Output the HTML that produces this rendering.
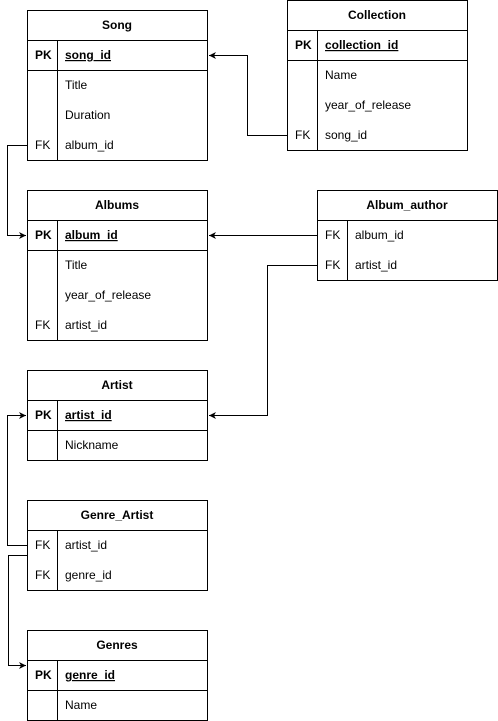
<!DOCTYPE html>
<html><head><style>body{margin:0;background:#fff}svg{display:block}text{font-family:"Liberation Sans",Arial,sans-serif;font-size:12px;fill:#000}</style></head><body>
<svg width="498" height="721" viewBox="0 0 498 721" xmlns="http://www.w3.org/2000/svg">
<defs><marker id="a" markerWidth="8" markerHeight="8" refX="7" refY="4" orient="auto" markerUnits="userSpaceOnUse"><path d="M0,0.5 L7,4 L0,7.5 L2,4Z" fill="#000"/></marker></defs>
<g fill="none" stroke="#000" stroke-width="1">
<!-- connectors -->
<path d="M27.5,145.5H7.5V235.5H26" marker-end="url(#a)"/>
<path d="M287.5,135.5H247.5V55.5H209" marker-end="url(#a)"/>
<path d="M317.5,235.5H209" marker-end="url(#a)"/>
<path d="M317.5,265.5H267.5V415.5H209" marker-end="url(#a)"/>
<path d="M27.5,545.5H7.5V415.5H26" marker-end="url(#a)"/>
<path d="M27.5,555.5H8.5V665.5H26" marker-end="url(#a)"/>
<!-- Song -->
<rect x="27.5" y="10.5" width="180" height="150"/><path d="M27.5,40.5H207.5M27.5,70.5H207.5M57.5,40.5V160.5"/>
<!-- Collection -->
<rect x="287.5" y="0.5" width="180" height="150"/><path d="M287.5,30.5H467.5M287.5,60.5H467.5M317.5,30.5V150.5"/>
<!-- Albums -->
<rect x="27.5" y="190.5" width="180" height="150"/><path d="M27.5,220.5H207.5M27.5,250.5H207.5M57.5,220.5V340.5"/>
<!-- Album_author -->
<rect x="317.5" y="190.5" width="180" height="90"/><path d="M317.5,220.5H497.5M347.5,220.5V280.5"/>
<!-- Artist -->
<rect x="27.5" y="370.5" width="180" height="90"/><path d="M27.5,400.5H207.5M27.5,430.5H207.5M57.5,400.5V460.5"/>
<!-- Genre_Artist -->
<rect x="27.5" y="500.5" width="180" height="90"/><path d="M27.5,530.5H207.5M57.5,530.5V590.5"/>
<!-- Genres -->
<rect x="27.5" y="630.5" width="180" height="90"/><path d="M27.5,660.5H207.5M27.5,690.5H207.5M57.5,660.5V720.5"/>
</g>
<g font-weight="bold" text-anchor="middle">
<text x="117" y="29" font-weight="bold">Song</text>
<text x="377" y="19" font-weight="bold">Collection</text>
<text x="117" y="209" font-weight="bold">Albums</text>
<text x="407" y="209" font-weight="bold">Album_author</text>
<text x="117" y="389" font-weight="bold">Artist</text>
<text x="117" y="519" font-weight="bold">Genre_Artist</text>
<text x="117" y="649" font-weight="bold">Genres</text>
</g>
<g>
<text x="35" y="59" font-weight="bold">PK</text><text x="65" y="59" font-weight="bold" text-decoration="underline">song_id</text>
<text x="65" y="89">Title</text><text x="65" y="119">Duration</text>
<text x="35" y="149">FK</text><text x="65" y="149">album_id</text>

<text x="295" y="49" font-weight="bold">PK</text><text x="325" y="49" font-weight="bold" text-decoration="underline">collection_id</text>
<text x="325" y="79">Name</text><text x="325" y="109">year_of_release</text>
<text x="295" y="139">FK</text><text x="325" y="139">song_id</text>

<text x="35" y="239" font-weight="bold">PK</text><text x="65" y="239" font-weight="bold" text-decoration="underline">album_id</text>
<text x="65" y="269">Title</text><text x="65" y="299">year_of_release</text>
<text x="35" y="329">FK</text><text x="65" y="329">artist_id</text>

<text x="325" y="239">FK</text><text x="355" y="239">album_id</text>
<text x="325" y="269">FK</text><text x="355" y="269">artist_id</text>

<text x="35" y="419" font-weight="bold">PK</text><text x="65" y="419" font-weight="bold" text-decoration="underline">artist_id</text>
<text x="65" y="449">Nickname</text>

<text x="35" y="549">FK</text><text x="65" y="549">artist_id</text>
<text x="35" y="579">FK</text><text x="65" y="579">genre_id</text>

<text x="35" y="679" font-weight="bold">PK</text><text x="65" y="679" font-weight="bold" text-decoration="underline">genre_id</text>
<text x="65" y="709">Name</text>
</g>
</svg>
</body></html>
